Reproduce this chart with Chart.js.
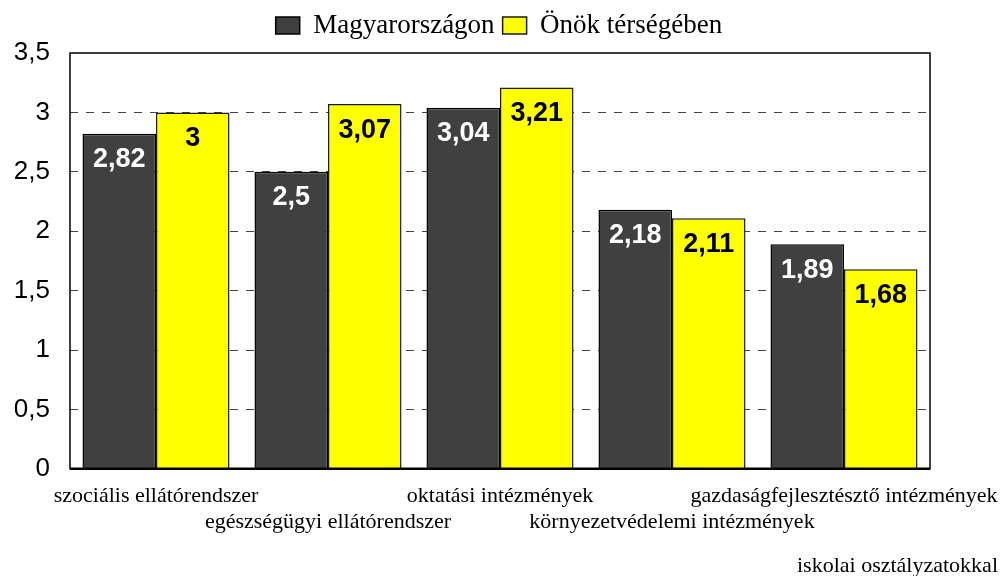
<!DOCTYPE html>
<html>
<head>
<meta charset="utf-8">
<script src="https://cdn.jsdelivr.net/npm/chart.js@4/dist/chart.umd.min.js"></script>
<style>
  html, body { margin: 0; padding: 0; background: #fff; }
  #wrap { width: 1003px; height: 576px; position: relative; }
</style>
</head>
<body>
<div id="wrap"><canvas id="c"></canvas></div>
<script>
const categories = [
  'szociális ellátórendszer',
  'egészségügyi ellátórendszer',
  'oktatási intézmények',
  'környezetvédelemi intézmények',
  'gazdaságfejlesztésztő intézmények'
];
const seriesNames = ['Magyarországon', 'Önök térségében'];
const magyarorszagon = [2.82, 2.5, 3.04, 2.18, 1.89];
const onokTersegeben = [3, 3.07, 3.21, 2.11, 1.68];
const yMin = 0, yMax = 3.5, yStep = 0.5;
const footnote = 'iskolai osztályzatokkal';

const fmt = v => String(v).replace('.', ',');

const legendGap = {
  id: 'legendGap',
  beforeLayout(chart) {
    const lg = chart.legend;
    if (lg && !lg._gapPatched) {
      const f = lg.fit;
      lg.fit = function () { f.call(this); this.height += 4; };
      lg._gapPatched = true;
    }
  }
};

const valueLabels = {
  id: 'valueLabels',
  afterDatasetsDraw(chart) {
    const ctx = chart.ctx;
    ctx.save();
    ctx.font = 'bold 27px "Liberation Sans", Arial, sans-serif';
    ctx.textAlign = 'center';
    ctx.textBaseline = 'middle';
    chart.data.datasets.forEach((ds, i) => {
      const meta = chart.getDatasetMeta(i);
      ctx.fillStyle = i === 0 ? '#ffffff' : '#000000';
      meta.data.forEach((bar, j) => {
        ctx.fillText(fmt(ds.data[j]), bar.x, bar.y + 26);
      });
    });
    ctx.restore();
  }
};

const frame = {
  id: 'frame',
  afterDatasetsDraw(chart) {
    const a = chart.chartArea, ctx = chart.ctx;
    ctx.save();
    ctx.strokeStyle = '#000';
    ctx.lineWidth = 1.5;
    ctx.strokeRect(a.left, a.top, a.right - a.left, a.bottom - a.top);
    ctx.lineWidth = 2.5;
    ctx.beginPath();
    ctx.moveTo(a.left, a.bottom);
    ctx.lineTo(a.right, a.bottom);
    ctx.stroke();
    ctx.restore();
  }
};

new Chart(document.getElementById('c'), {
  type: 'bar',
  data: {
    labels: categories,
    datasets: [
      { label: seriesNames[0], data: magyarorszagon, backgroundColor: '#404040', borderColor: '#000', borderWidth: 1.5, categoryPercentage: 0.855, barPercentage: 1 },
      { label: seriesNames[1], data: onokTersegeben, backgroundColor: '#ffff00', borderColor: '#1a1a1a', borderWidth: 1.5, categoryPercentage: 0.855, barPercentage: 1 }
    ]
  },
  options: {
    responsive: true,
    maintainAspectRatio: false,
    animation: false,
    layout: { padding: { left: 0, right: 5, top: 4, bottom: 0 } },
    plugins: {
      legend: {
        position: 'top',
        labels: {
          font: { family: '"Liberation Serif", "Times New Roman", serif', size: 27 },
          color: '#000',
          boxWidth: 24,
          boxHeight: 17,
          padding: 8
        }
      },
      subtitle: {
        display: true,
        text: footnote,
        position: 'bottom',
        align: 'end',
        color: '#000',
        font: { family: '"Liberation Serif", "Times New Roman", serif', size: 22, weight: 'normal' },
        padding: { top: 11, bottom: -3 }
      },
      tooltip: { enabled: false }
    },
    scales: {
      x: {
        grid: { display: false },
        border: { display: false },
        afterFit(scale) { scale.paddingLeft = 0; scale.paddingRight = 73; },
        ticks: {
          autoSkip: false,
          maxRotation: 0,
          minRotation: 0,
          padding: 6,
          color: '#000',
          font: { family: '"Liberation Serif", "Times New Roman", serif', size: 22 },
          callback: (v, i) => (i % 2 ? ['', categories[i]] : categories[i])
        }
      },
      y: {
        min: yMin,
        max: yMax,
        afterFit(scale) { scale.width = 70; },
        ticks: {
          stepSize: yStep,
          padding: 20,
          color: '#000',
          font: { family: '"Liberation Sans", Arial, sans-serif', size: 26 },
          callback: v => fmt(v)
        },
        grid: {
          drawTicks: false,
          lineWidth: 1,
          color: ctx => (ctx.tick && (ctx.tick.value === yMin || ctx.tick.value === yMax)) ? 'rgba(0,0,0,0)' : '#444'
        },
        border: { display: false, dash: [8, 8] }
      }
    }
  },
  plugins: [legendGap, valueLabels, frame]
});
</script>
</body>
</html>
